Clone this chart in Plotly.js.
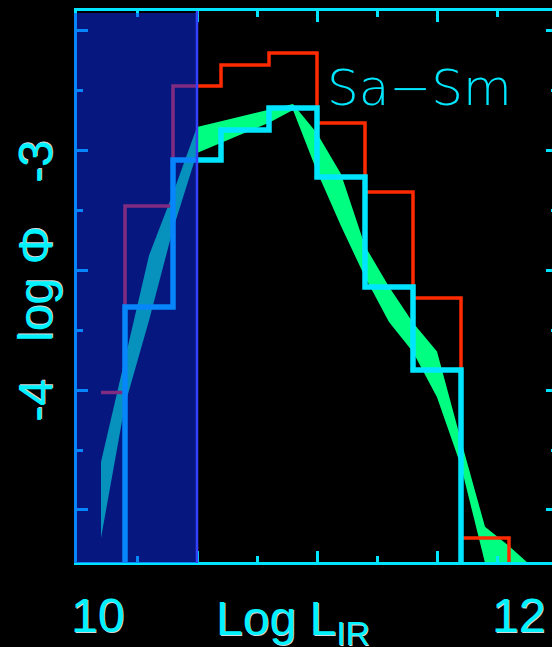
<!DOCTYPE html>
<html><head><meta charset="utf-8">
<script src="https://cdn.plot.ly/plotly-3.0.1.min.js"></script>
<style>html,body{margin:0;padding:0;background:#000;overflow:hidden;width:552px;height:647px}</style>
</head><body><div id="chart" style="width:560px;height:647px"></div>
<script>
// ---- data ----
const redLogL    = [10.1, 10.3, 10.5, 10.7, 10.9, 11.1, 11.3, 11.5, 11.7, 11.9];
const redLogPhi  = [-4.01, -3.233, -2.733, -2.646, -2.596, -2.8875, -3.175, -3.617, -4.617, -6.0]; // last bin below axis
const cyanLogL   = [10.1, 10.3, 10.5, 10.7, 10.9, 11.1, 11.3, 11.5, 11.7];
const cyanLogPhi = [-6.0, -3.654, -3.042, -2.917, -2.825, -3.1125, -3.571, -3.917, -6.0]; // first/last below axis
const bandLogL   = [10.1, 10.2, 10.3, 10.4, 10.5, 10.6, 10.7, 10.8, 10.9, 11.0, 11.1, 11.2, 11.3, 11.4, 11.5, 11.6, 11.7, 11.8, 11.9];
const bandUpper  = [-4.30, -3.875, -3.44, -3.18, -2.904, -2.880, -2.856, -2.832, -2.808, -2.93, -3.10, -3.40, -3.57, -3.72, -3.84, -4.21, -4.57, -4.65, -4.74];
const bandLower  = [-4.617, -4.06, -3.71, -3.33, -3.0125, -2.97, -2.928, -2.886, -2.833, -3.09, -3.317, -3.529, -3.717, -3.842, -4.03, -4.317, -4.72, -4.85, -4.9];
const shadedLogL = [10.0, 10.5];
const xTickLabels = ['10', '12'];
const yTickLabels = ['-3', '-4'];
const yTitle = 'log \u03A6';
const xTitle = 'Log L<sub>IR</sub>';
const panelLabel = 'Sa\u2212Sm';

// ---- layout helpers ----
const xRange = [10, 12];
const yRange = [-4.7167, -2.4208];
const plotW = 480, plotH = 551;
const toPaperX = v => (v - xRange[0]) / (xRange[1] - xRange[0]);
const cyan = '#00e5ff';
const labelFont = {family: 'Liberation Sans, Arial, sans-serif', size: 48, color: '#00f2ff', shadow: '1px 1px 0px rgba(255,255,255,0.85)'};

const traces = [
  {x: bandLogL.concat(bandLogL.slice().reverse()),
   y: bandUpper.concat(bandLower.slice().reverse()),
   mode: 'lines', fill: 'toself', fillcolor: '#00ff80', line: {width: 0, color: '#00ff80'}, hoverinfo: 'skip'},
  {x: redLogL, y: redLogPhi, mode: 'lines', line: {shape: 'hvh', color: '#ff2a00', width: 3.5}, hoverinfo: 'skip'},
  {x: cyanLogL, y: cyanLogPhi, mode: 'lines', line: {shape: 'hvh', color: '#00e5ff', width: 5.5}, hoverinfo: 'skip'}
];

const axisCommon = {showgrid: false, zeroline: false, showline: true, linecolor: cyan, linewidth: 3,
  mirror: 'ticks', ticks: 'inside', ticklen: 11, tickwidth: 3, tickcolor: cyan, showticklabels: false, dtick: 0.5};

const layout = {
  width: 560, height: 647,
  margin: {l: 77, r: 3, t: 11, b: 85, pad: 0},
  paper_bgcolor: '#000', plot_bgcolor: '#000',
  showlegend: false, hovermode: false,
  xaxis: Object.assign({}, axisCommon, {range: xRange, tick0: 10,
    minor: {ticks: 'inside', ticklen: 6, tickwidth: 3, tickcolor: cyan, dtick: 0.25, tick0: 10, showgrid: false}}),
  yaxis: Object.assign({}, axisCommon, {range: yRange, tick0: -3,
    minor: {ticks: 'inside', ticklen: 6, tickwidth: 3, tickcolor: cyan, dtick: 0.25, tick0: -3, showgrid: false}}),
  shapes: [
    {type: 'rect', xref: 'paper', yref: 'paper', layer: 'above',
     x0: toPaperX(shadedLogL[0]) - 3 / plotW, x1: toPaperX(shadedLogL[1]),
     y0: -1 / plotH, y1: 1 - 2 / plotH,
     fillcolor: 'rgba(11,46,246,0.52)', line: {width: 0}},
    {type: 'line', xref: 'paper', yref: 'paper', layer: 'above',
     x0: toPaperX(shadedLogL[1]), x1: toPaperX(shadedLogL[1]), y0: -1 / plotH, y1: 1,
     line: {color: '#3440ff', width: 2.5}}
  ],
  annotations: [
    {text: panelLabel, xref: 'paper', yref: 'paper', x: (419 - 77) / plotW, y: 1 - (88 - 11) / plotH,
     xanchor: 'center', yanchor: 'middle', showarrow: false,
     font: {family: 'DejaVu Sans', weight: 200, size: 50, color: '#00e8ff'}},
    {text: xTickLabels[0], xref: 'paper', yref: 'paper', x: (97.5 - 77) / plotW, y: -(615.5 - 562) / plotH,
     xanchor: 'center', yanchor: 'middle', showarrow: false, font: labelFont},
    {text: xTickLabels[1], xref: 'paper', yref: 'paper', x: (518 - 77) / plotW, y: -(615.5 - 562) / plotH,
     xanchor: 'center', yanchor: 'middle', showarrow: false, font: labelFont},
    {text: xTitle, xref: 'paper', yref: 'paper', x: (293 - 77) / plotW, y: -(622 - 562) / plotH,
     xanchor: 'center', yanchor: 'middle', showarrow: false, font: labelFont},
    {text: yTickLabels[0], xref: 'paper', yref: 'paper', x: (35 - 77) / plotW, y: 1 - (162 - 11) / plotH,
     xanchor: 'center', yanchor: 'middle', textangle: -90, showarrow: false, font: labelFont},
    {text: yTitle, xref: 'paper', yref: 'paper', x: (35 - 77) / plotW, y: 1 - (284 - 11) / plotH,
     xanchor: 'center', yanchor: 'middle', textangle: -90, showarrow: false, font: labelFont},
    {text: yTickLabels[1], xref: 'paper', yref: 'paper', x: (35 - 77) / plotW, y: 1 - (401 - 11) / plotH,
     xanchor: 'center', yanchor: 'middle', textangle: -90, showarrow: false, font: labelFont}
  ]
};

Plotly.newPlot('chart', traces, layout, {staticPlot: true, displayModeBar: false});
</script>
</body></html>
